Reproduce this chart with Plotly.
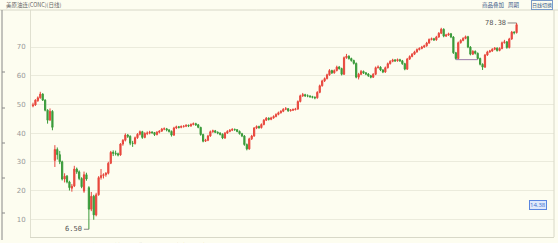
import plotly.graph_objects as go

# ---- data ----
opens = [49.5, 49.8, 51.3, 52.3, 53.6, 51.5, 48.0, 44.6, 47.6, 30.5,
         34.3, 32.5, 30.0, 24.0, 25.0, 23.0, 20.8, 21.6, 27.5, 26.5,
         24.2, 19.8, 25.5, 21.0, 13.5, 18.0, 11.5, 18.5, 24.5, 25.2,
         25.5, 26.0, 29.5, 33.3, 33.0, 32.8, 32.4, 36.2, 37.5, 39.3,
         38.9, 36.5, 36.4, 38.4, 39.6, 40.5, 38.5, 39.9, 40.0, 40.3,
         40.2, 39.5, 40.3, 40.7, 41.4, 41.5, 41.1, 40.6, 39.3, 41.8,
         42.2, 42.0, 42.3, 42.4, 42.7, 42.5, 43.0, 43.3, 42.9, 42.0,
         39.5, 37.2, 37.5, 39.0, 40.5, 40.8, 40.3, 40.0, 39.6, 38.3,
         40.0, 40.6, 41.0, 41.3, 41.2, 40.6, 39.8, 39.0, 36.0, 34.5,
         38.0, 39.0, 41.8, 42.3, 41.9, 43.0, 44.5, 45.2, 44.8, 45.3,
         45.8, 46.5, 47.1, 47.6, 48.3, 48.5, 47.8, 48.0, 48.2, 48.4,
         51.0, 53.0, 53.4, 53.0, 52.9, 52.7, 52.5, 52.3, 54.2, 56.5,
         58.2, 59.0, 60.3, 61.8, 61.0, 61.8, 63.0, 62.5, 60.5, 66.3,
         66.8, 66.0, 65.3, 64.3, 59.5, 60.5, 61.5, 61.0, 60.6, 60.0,
         59.5, 60.5, 62.8, 63.0, 62.0, 61.3, 62.8, 64.2, 65.0, 65.5,
         65.2, 65.6, 65.2, 64.2, 62.3, 65.8, 66.7, 67.5, 68.3, 69.1,
         69.5, 70.0, 70.4, 71.4, 72.6, 72.9, 72.5, 73.5, 74.8, 76.2,
         73.8, 74.2, 74.6, 73.5, 68.0, 66.0, 71.5, 72.3, 73.0, 73.6,
         70.0, 67.5, 68.5, 67.8, 66.0, 64.0, 63.0, 67.2, 68.3, 68.6,
         69.2, 69.6, 68.8, 69.5, 71.5, 71.8, 69.8, 72.8, 75.2, 75.0]

highs = [50.6, 51.8, 52.8, 54.4, 53.9, 51.8, 48.3, 48.6, 48.0, 35.8,
         35.0, 33.8, 30.4, 26.0, 25.4, 23.4, 22.3, 28.6, 28.0, 27.0,
         24.6, 26.6, 26.2, 21.5, 19.5, 18.5, 19.2, 25.0, 27.5, 26.0,
         26.4, 30.0, 33.8, 34.0, 33.9, 33.2, 36.5, 37.9, 39.9, 39.7,
         39.2, 37.3, 38.8, 40.0, 40.9, 40.8, 40.3, 40.6, 40.8, 40.7,
         40.4, 40.7, 41.0, 41.8, 42.0, 41.8, 41.4, 40.9, 42.2, 42.6,
         42.5, 42.7, 42.8, 43.1, 43.0, 43.4, 43.7, 43.6, 43.2, 42.2,
         39.8, 38.0, 39.4, 40.9, 41.2, 41.1, 40.6, 40.3, 39.9, 40.4,
         41.0, 41.4, 41.7, 41.6, 41.4, 40.9, 40.1, 39.3, 36.4, 38.4,
         39.4, 42.1, 42.7, 42.6, 43.4, 44.9, 45.6, 45.5, 45.7, 46.2,
         46.9, 47.5, 48.0, 48.7, 49.1, 48.7, 48.4, 48.6, 48.8, 51.4,
         53.4, 54.0, 53.7, 53.5, 53.2, 53.0, 52.8, 54.6, 56.9, 58.6,
         59.4, 60.7, 62.3, 62.1, 62.2, 63.5, 63.4, 62.8, 66.7, 67.6,
         67.1, 66.3, 65.6, 64.6, 61.0, 62.0, 61.8, 61.3, 60.9, 60.3,
         60.9, 63.2, 63.6, 63.3, 62.3, 63.2, 64.6, 65.4, 65.9, 65.8,
         66.0, 65.9, 65.5, 64.5, 66.2, 67.1, 67.9, 68.7, 69.5, 69.9,
         70.4, 70.8, 71.8, 73.0, 73.3, 73.2, 73.9, 75.2, 76.7, 76.5,
         74.6, 75.0, 74.9, 73.8, 68.3, 71.9, 72.7, 73.4, 74.0, 73.9,
         70.3, 68.9, 68.8, 68.1, 66.3, 64.3, 67.6, 68.7, 69.0, 69.6,
         70.0, 69.9, 69.9, 71.9, 72.5, 72.1, 73.2, 75.6, 75.5, 78.38]

lows = [49.0, 49.5, 50.9, 52.0, 51.2, 47.6, 43.3, 44.2, 41.0, 28.2,
        30.8, 29.2, 23.5, 22.8, 22.5, 20.0, 19.6, 21.2, 25.8, 23.6,
        20.8, 19.2, 23.4, 6.5, 12.8, 9.8, 11.0, 18.2, 23.8, 24.2,
        24.8, 25.6, 29.2, 32.0, 32.2, 31.9, 32.1, 35.6, 37.1, 38.3,
        35.8, 35.2, 36.0, 38.0, 39.2, 38.0, 38.2, 39.3, 39.6, 39.7,
        39.0, 39.2, 39.9, 40.4, 41.0, 40.6, 40.2, 38.8, 39.0, 41.4,
        41.6, 41.7, 41.9, 42.1, 42.1, 42.2, 42.7, 42.5, 41.7, 39.1,
        36.8, 36.9, 37.2, 38.7, 40.1, 40.0, 39.6, 39.2, 37.9, 38.0,
        39.7, 40.3, 40.7, 40.8, 40.3, 39.5, 38.6, 35.6, 34.0, 34.2,
        37.6, 38.7, 41.4, 41.5, 41.6, 42.7, 44.2, 44.4, 44.5, 45.0,
        45.5, 46.2, 46.8, 47.3, 48.0, 47.4, 47.5, 47.7, 47.9, 48.1,
        50.7, 52.6, 52.6, 52.5, 52.3, 52.1, 51.8, 52.0, 53.9, 56.2,
        57.8, 58.7, 60.0, 60.6, 60.7, 61.5, 62.1, 60.1, 60.3, 65.9,
        65.6, 64.9, 63.9, 59.1, 58.7, 60.2, 60.6, 60.2, 59.6, 59.1,
        59.2, 60.2, 62.5, 61.6, 60.9, 61.0, 62.5, 63.9, 64.7, 64.8,
        64.9, 64.8, 63.8, 61.9, 62.0, 65.5, 66.4, 67.2, 68.0, 68.8,
        69.2, 69.7, 70.1, 71.1, 72.3, 72.1, 72.2, 73.2, 74.5, 73.4,
        73.5, 73.9, 73.1, 67.6, 65.6, 65.8, 71.2, 72.0, 72.7, 69.6,
        67.1, 67.2, 67.4, 65.6, 63.6, 62.0, 62.7, 66.9, 68.0, 68.3,
        68.9, 68.4, 68.5, 69.2, 71.2, 69.4, 69.5, 72.5, 74.4, 74.7]

closes = [49.8, 51.5, 52.3, 53.6, 51.5, 48.0, 44.5, 47.6, 42.0, 34.3,
          32.5, 30.0, 24.0, 25.0, 23.0, 21.0, 21.5, 27.5, 26.5, 24.2,
          21.3, 25.5, 24.0, 13.5, 18.0, 11.5, 18.5, 24.5, 25.2, 25.5,
          26.0, 29.5, 33.3, 33.0, 32.8, 32.4, 36.2, 37.5, 39.3, 38.9,
          36.5, 36.4, 38.4, 39.6, 40.5, 38.5, 39.9, 40.0, 40.3, 40.2,
          39.5, 40.3, 40.7, 41.4, 41.5, 41.1, 40.6, 39.3, 41.8, 42.2,
          42.0, 42.3, 42.4, 42.7, 42.5, 43.0, 43.3, 42.9, 42.0, 39.5,
          37.2, 37.5, 39.0, 40.5, 40.8, 40.3, 40.0, 39.6, 38.3, 40.0,
          40.6, 41.0, 41.3, 41.2, 40.6, 39.8, 39.0, 36.0, 34.5, 38.0,
          39.0, 41.8, 42.3, 41.9, 43.0, 44.5, 45.2, 44.8, 45.3, 45.8,
          46.5, 47.1, 47.6, 48.3, 48.5, 47.8, 48.0, 48.2, 48.4, 51.0,
          53.0, 53.4, 53.0, 52.9, 52.7, 52.5, 52.3, 54.2, 56.5, 58.2,
          59.0, 60.3, 61.8, 61.0, 61.8, 63.0, 62.5, 60.5, 66.3, 66.8,
          66.0, 65.3, 64.3, 59.5, 60.5, 61.5, 61.0, 60.6, 60.0, 59.5,
          60.5, 62.8, 63.0, 62.0, 61.3, 62.8, 64.2, 65.0, 65.5, 65.2,
          65.6, 65.2, 64.2, 62.3, 65.8, 66.7, 67.5, 68.3, 69.1, 69.5,
          70.0, 70.4, 71.4, 72.6, 72.9, 72.5, 73.5, 74.8, 76.2, 73.8,
          74.2, 74.6, 73.5, 68.0, 66.0, 71.5, 72.3, 73.0, 73.6, 70.0,
          67.5, 68.5, 67.8, 66.0, 64.0, 63.0, 67.2, 68.3, 68.6, 69.2,
          69.6, 68.8, 69.5, 71.5, 71.8, 69.8, 72.8, 75.2, 75.0, 77.8]

y_ticks = [10, 20, 30, 40, 50, 60, 70]
max_label = "78.38"
min_label = "6.50"
cursor_label = "14.38"
cursor_value = 14.38

idx = list(range(len(closes)))

W, H = 558, 243
ML, MR, MT, MB = 31, 4, 10, 6
PW, PH = W - ML - MR, H - MT - MB


def px_x(p):
    return (p - ML) / PW


def px_y(p):
    return (H - MB - p) / PH


fig = go.Figure()
fig.add_trace(go.Candlestick(
    x=idx, open=opens, high=highs, low=lows, close=closes,
    increasing=dict(line=dict(color="#e8473d", width=1), fillcolor="#e8473d"),
    decreasing=dict(line=dict(color="#3a9b3a", width=1), fillcolor="#3a9b3a"),
    whiskerwidth=0, hoverinfo="skip", showlegend=False,
))

i_max = highs.index(max(highs))
i_min = lows.index(min(lows))

mono = "DejaVu Sans Mono"
cjk = "Noto Sans CJK SC"

annotations = [
    dict(x=i_max, y=highs[i_max], xref="x", yref="y", text=max_label,
         showarrow=True, arrowhead=0, arrowwidth=0.8, arrowcolor="#666",
         ax=-9, ay=0, xanchor="right", font=dict(size=7, color="#555", family=mono)),
    dict(x=i_min, y=lows[i_min], xref="x", yref="y", text=min_label,
         showarrow=True, arrowhead=0, arrowwidth=0.8, arrowcolor="#666",
         ax=-5, ay=0, xanchor="right", font=dict(size=7, color="#555", family=mono)),
    dict(x=px_x(546.5), y=cursor_value, xref="paper", yref="y", text=cursor_label,
         showarrow=False, yshift=2, font=dict(size=6, color="#3a6fd0"),
         bgcolor="#dfe9fb", bordercolor="#5a86e0", borderwidth=1, borderpad=0),
    dict(x=px_x(4), y=px_y(5), xref="paper", yref="paper", text="美原油连(CONC)(日线)",
         showarrow=False, xanchor="left", yanchor="middle",
         font=dict(size=5.5, color="#666", family=cjk)),
    dict(x=px_x(493), y=px_y(5), xref="paper", yref="paper", text="商品叠加",
         showarrow=False, xanchor="center", yanchor="middle",
         font=dict(size=5.5, color="#3a5a8a", family=cjk)),
    dict(x=px_x(514), y=px_y(5), xref="paper", yref="paper", text="周期",
         showarrow=False, xanchor="center", yanchor="middle",
         font=dict(size=5.5, color="#3a5a8a", family=cjk)),
    dict(x=px_x(542), y=px_y(5), xref="paper", yref="paper", text="日线切换",
         showarrow=False, xanchor="center", yanchor="middle", borderpad=0,
         bordercolor="#7a9ac8", borderwidth=1,
         font=dict(size=5, color="#3a5a8a", family=cjk)),
    dict(x=px_x(32), y=px_y(239), xref="paper", yref="paper",
         text="2016/02/11 开 27.45 高 27.92 低 26.05 收 26.21",
         showarrow=False, xanchor="left", yanchor="top",
         font=dict(size=6, color="#999", family=cjk)),
    dict(x=px_x(172), y=px_y(239), xref="paper", yref="paper",
         text="涨跌 -1.24 幅 -4.52%",
         showarrow=False, xanchor="left", yanchor="top",
         font=dict(size=6, color="#e0a040", family=cjk)),
]

shapes = [
    dict(type="line", xref="paper", yref="paper", x0=px_x(0), x1=px_x(558),
         y0=px_y(10), y1=px_y(10), line=dict(color="#d8d8c8", width=1)),
    dict(type="line", xref="paper", yref="paper", x0=px_x(554), x1=px_x(554),
         y0=px_y(10), y1=px_y(237), line=dict(color="#d8d8c8", width=1)),
    dict(type="line", xref="paper", yref="paper", x0=px_x(2), x1=px_x(2),
         y0=px_y(10), y1=px_y(240), line=dict(color="#888", width=1)),
    dict(type="line", xref="x", yref="y", x0=174, x1=183,
         y0=lows[174], y1=lows[183], line=dict(color="#9a7aa8", width=1)),
]
for py in (72, 108, 143, 178, 213):
    shapes.append(dict(type="line", xref="paper", yref="paper", x0=px_x(2), x1=px_x(5),
                       y0=px_y(py), y1=px_y(py), line=dict(color="#888", width=1)))

fig.update_layout(
    width=W, height=H,
    margin=dict(l=ML, r=MR, t=MT, b=MB),
    paper_bgcolor="#fdfdf0", plot_bgcolor="#fdfdf0",
    showlegend=False,
    annotations=annotations,
    shapes=shapes,
    xaxis=dict(range=[-0.82, 214.4], showgrid=False, zeroline=False,
               showticklabels=False, rangeslider=dict(visible=False),
               showline=True, linecolor="#d8d8c8", linewidth=1, fixedrange=True),
    yaxis=dict(range=[3.8, 82.9], tickvals=y_ticks, showgrid=True,
               gridcolor="#ebebdc", gridwidth=1, zeroline=False,
               showline=True, linecolor="#e0e0d0", linewidth=1,
               tickfont=dict(size=7, color="#999", family="DejaVu Sans"),
               ticks="", ticklabelstandoff=3, fixedrange=True),
)

fig.write_html("out.html")
